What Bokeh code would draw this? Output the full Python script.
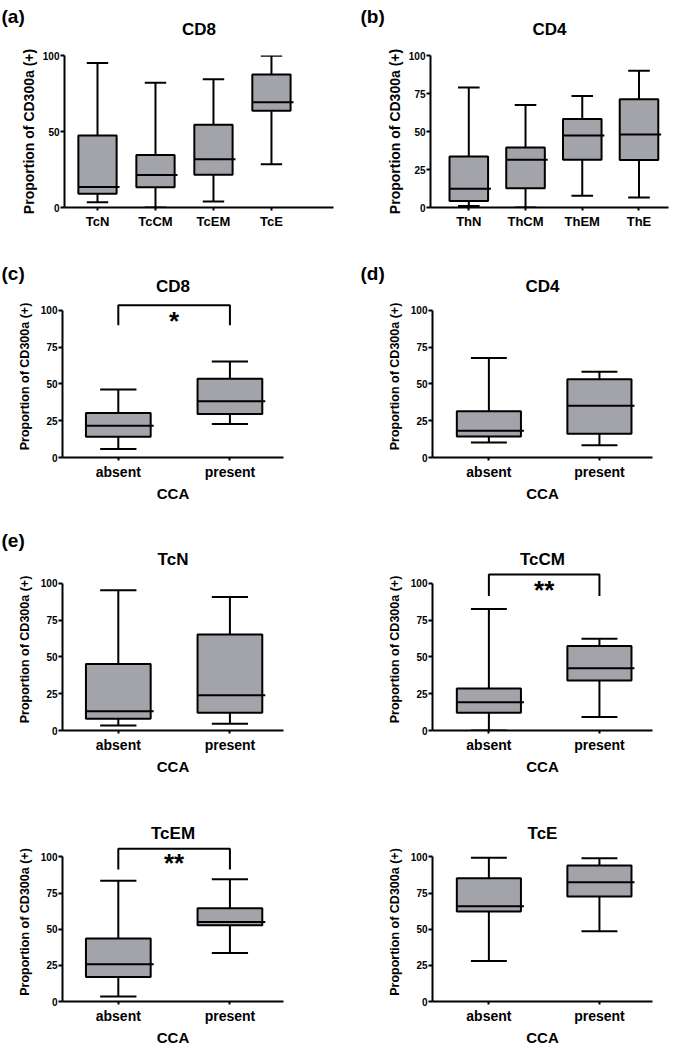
from bokeh.plotting import figure
from bokeh.models import Range1d, FixedTicker, Label, Title
from bokeh.layouts import column, row
from bokeh.embed import file_html
from bokeh.resources import INLINE

# ---------------- data ----------------
cd8_subsets = ["TcN", "TcCM", "TcEM", "TcE"]
cd8_lo = [3.4, 0.0, 3.9, 28.4]
cd8_q1 = [9.0, 13.3, 21.5, 63.7]
cd8_med = [13.5, 21.3, 31.8, 69.2]
cd8_q3 = [47.3, 34.6, 54.4, 87.5]
cd8_hi = [95.0, 82.0, 84.3, 99.8]

cd4_subsets = ["ThN", "ThCM", "ThEM", "ThE"]
cd4_lo = [1.0, 0.0, 7.7, 6.5]
cd4_q1 = [4.3, 12.7, 31.4, 31.2]
cd4_med = [12.3, 31.4, 47.3, 48.0]
cd4_q3 = [33.5, 39.4, 58.3, 71.2]
cd4_hi = [79.0, 67.5, 73.3, 89.9]

cca_groups = ["absent", "present"]

cca_cd8_lo = [5.7, 22.7]
cca_cd8_q1 = [14.1, 29.5]
cca_cd8_med = [21.6, 38.2]
cca_cd8_q3 = [30.2, 53.4]
cca_cd8_hi = [46.1, 65.2]

cca_cd4_lo = [10.2, 8.4]
cca_cd4_q1 = [14.3, 16.1]
cca_cd4_med = [18.2, 35.2]
cca_cd4_q3 = [31.4, 53.2]
cca_cd4_hi = [67.5, 58.2]

cca_tcn_lo = [3.4, 4.5]
cca_tcn_q1 = [8.0, 12.0]
cca_tcn_med = [13.0, 23.9]
cca_tcn_q3 = [45.2, 65.2]
cca_tcn_hi = [95.2, 90.7]

cca_tccm_lo = [0.0, 9.1]
cca_tccm_q1 = [12.0, 33.9]
cca_tccm_med = [19.1, 42.3]
cca_tccm_q3 = [28.6, 57.3]
cca_tccm_hi = [82.5, 62.3]

cca_tcem_lo = [3.4, 33.6]
cca_tcem_q1 = [17.0, 52.7]
cca_tcem_med = [25.7, 55.0]
cca_tcem_q3 = [43.6, 64.5]
cca_tcem_hi = [83.6, 84.5]

cca_tce_lo = [28.0, 48.6]
cca_tce_q1 = [62.3, 72.7]
cca_tce_med = [65.9, 82.5]
cca_tce_q3 = [85.2, 94.1]
cca_tce_hi = [99.5, 99.1]

# significance brackets: (leg bottom, bracket top, star position, stars)
sig_cd8 = (89.8, 103.4, 93.0, "*")
sig_tccm = (91.4, 106.0, 95.5, "**")
sig_tcem = (91.4, 105.7, 95.5, "**")

ticks_a = [0, 50, 100]
ticks_std = [0, 25, 50, 75, 100]
y_label = "Proportion of CD300a (+)"

# ---------------- style ----------------
FONT = "Liberation Sans"
BOX_FILL = "#a3a3aa"
LW = 2


def make_title(text, size, align, offset, standoff):
    kw = dict(text=text, align=align, offset=offset, text_font=FONT,
              text_font_style="bold", text_font_size=f"{size}px",
              text_color="black")
    try:
        return Title(standoff=standoff, **kw)
    except Exception:
        return Title(standoff=0, **kw)


def panel(cats, lo, q1, med, q3, hi, *, title, letter=None, width, height,
          left, right, top, bottom, x_start, x_end, y_end, yticks, box_w,
          med_ext, title_standoff, letter_x=0, letter_standoff=0, cat_size,
          ylab_size, ylab_standoff, xlabel=None, sig=None):
    xs = list(range(len(cats)))
    p = figure(width=width, height=height,
               x_range=Range1d(x_start, x_end), y_range=Range1d(0, y_end),
               output_backend="svg", toolbar_location=None,
               min_border_left=left, min_border_right=right,
               min_border_top=top, min_border_bottom=bottom)
    p.grid.visible = False
    p.outline_line_color = None
    p.background_fill_color = "white"

    cw = box_w * 0.56
    p.vbar(x=xs, bottom=q1, top=q3, width=box_w, fill_color=BOX_FILL,
           line_color="black", line_width=LW)
    # median (slightly overhanging the box on the right, Prism style)
    p.segment(x0=[x - box_w / 2 for x in xs],
              x1=[x + box_w / 2 + med_ext for x in xs],
              y0=med, y1=med, line_color="black", line_width=LW)
    p.segment(x0=xs, x1=xs, y0=q3, y1=hi, line_color="black", line_width=LW)
    p.segment(x0=xs, x1=xs, y0=q1, y1=lo, line_color="black", line_width=LW)
    p.segment(x0=[x - cw / 2 for x in xs], x1=[x + cw / 2 for x in xs],
              y0=hi, y1=hi, line_color="black", line_width=LW)
    p.segment(x0=[x - cw / 2 for x in xs], x1=[x + cw / 2 for x in xs],
              y0=lo, y1=lo, line_color="black", line_width=LW)

    for ax in (p.xaxis[0], p.yaxis[0]):
        ax.axis_line_width = LW
        ax.major_tick_line_width = LW
        ax.major_tick_in = 0
        ax.minor_tick_line_color = None
        ax.major_label_text_font = FONT
        ax.major_label_text_font_style = "bold"
        ax.major_label_text_color = "black"
        ax.axis_label_text_font = FONT
        ax.axis_label_text_font_style = "bold"
        ax.axis_label_text_color = "black"
    xa = p.xaxis[0]
    xa.ticker = FixedTicker(ticks=xs)
    xa.major_label_overrides = {i: c for i, c in enumerate(cats)}
    xa.major_tick_out = 3
    xa.major_label_standoff = 3
    xa.major_label_text_font_size = f"{cat_size}px"
    if xlabel:
        xa.axis_label = xlabel
        xa.axis_label_text_font_size = "15px"
        xa.axis_label_standoff = 2
    ya = p.yaxis[0]
    ya.ticker = FixedTicker(ticks=yticks)
    ya.bounds = (0, 100)
    ya.major_tick_out = 4
    ya.major_label_standoff = 1
    ya.major_label_text_font_size = "10px"
    ya.axis_label = y_label
    ya.axis_label_text_font_size = f"{ylab_size}px"
    ya.axis_label_standoff = ylab_standoff

    # title centred over the groups (offset from the frame centre)
    frame_w = width - left - right
    mid = (xs[0] + xs[-1]) / 2
    off = ((mid - x_start) / (x_end - x_start) - 0.5) * frame_w
    p.add_layout(make_title(title, 17, "center", off, title_standoff), "above")
    if letter:
        p.add_layout(make_title(letter, 19, "left", letter_x, letter_standoff),
                     "above")
    if sig:
        leg, top_y, star_y, stars = sig
        p.line(x=[xs[0], xs[0], xs[1], xs[1]], y=[leg, top_y, top_y, leg],
               line_color="black", line_width=LW)
        p.add_layout(Label(x=mid, y=star_y, text=stars,
                           text_align="center", text_baseline="middle",
                           text_font=FONT, text_font_style="bold",
                           text_font_size="26px", text_color="black"))
    return p


LCOL, RCOL = 335, 339

# row 1
pa = panel(cd8_subsets, cd8_lo, cd8_q1, cd8_med, cd8_q3, cd8_hi, title="CD8",
           letter="(a)", width=LCOL, height=232, left=64, right=2, top=52,
           bottom=25, x_start=-0.569, x_end=4.07, y_end=100, yticks=ticks_a,
           box_w=0.66, med_ext=0.05, title_standoff=34, letter_x=-63,
           letter_standoff=-52, cat_size=13, ylab_size=14, ylab_standoff=3)
pb = panel(cd4_subsets, cd4_lo, cd4_q1, cd4_med, cd4_q3, cd4_hi, title="CD4",
           letter="(b)", width=RCOL, height=232, left=95, right=6, top=52,
           bottom=25, x_start=-0.675, x_end=3.52, y_end=100, yticks=ticks_std,
           box_w=0.68, med_ext=0.05, title_standoff=34, letter_x=-70,
           letter_standoff=-52, cat_size=13, ylab_size=14, ylab_standoff=3)

common2 = dict(x_end=1.48, y_end=110, yticks=ticks_std, box_w=0.58,
               med_ext=0.027, cat_size=14, ylab_size=12.5, ylab_standoff=6,
               xlabel="CCA")
# row 2
pc = panel(cca_groups, cca_cd8_lo, cca_cd8_q1, cca_cd8_med, cca_cd8_q3,
           cca_cd8_hi, title="CD8", letter="(c)", width=LCOL, height=273,
           left=62, right=52, top=63, bottom=48, x_start=-0.5,
           title_standoff=0, letter_x=-61, letter_standoff=-18,
           sig=sig_cd8, **common2)
pd_ = panel(cca_groups, cca_cd4_lo, cca_cd4_q1, cca_cd4_med, cca_cd4_q3,
            cca_cd4_hi, title="CD4", letter="(d)", width=RCOL, height=273,
            left=97, right=22, top=63, bottom=48, x_start=-0.51,
            title_standoff=0, letter_x=-72, letter_standoff=-18, **common2)
# row 3
pe1 = panel(cca_groups, cca_tcn_lo, cca_tcn_q1, cca_tcn_med, cca_tcn_q3,
            cca_tcn_hi, title="TcN", letter="(e)", width=LCOL, height=285,
            left=62, right=52, top=63, bottom=60, x_start=-0.5,
            title_standoff=0, letter_x=-61, letter_standoff=-6, **common2)
pe2 = panel(cca_groups, cca_tccm_lo, cca_tccm_q1, cca_tccm_med, cca_tccm_q3,
            cca_tccm_hi, title="TcCM", width=RCOL, height=285,
            left=97, right=22, top=63, bottom=60, x_start=-0.51,
            title_standoff=0, sig=sig_tccm, **common2)
# row 4
pe3 = panel(cca_groups, cca_tcem_lo, cca_tcem_q1, cca_tcem_med, cca_tcem_q3,
            cca_tcem_hi, title="TcEM", width=LCOL, height=258,
            left=62, right=52, top=52, bottom=45, x_start=-0.5,
            title_standoff=0, sig=sig_tcem, **common2)
pe4 = panel(cca_groups, cca_tce_lo, cca_tce_q1, cca_tce_med, cca_tce_q3,
            cca_tce_hi, title="TcE", width=RCOL, height=258,
            left=97, right=22, top=52, bottom=45, x_start=-0.51,
            title_standoff=0, **common2)

layout = column(row(pa, pb), row(pc, pd_), row(pe1, pe2), row(pe3, pe4))

open("out.html", "w").write(file_html(layout, INLINE))
